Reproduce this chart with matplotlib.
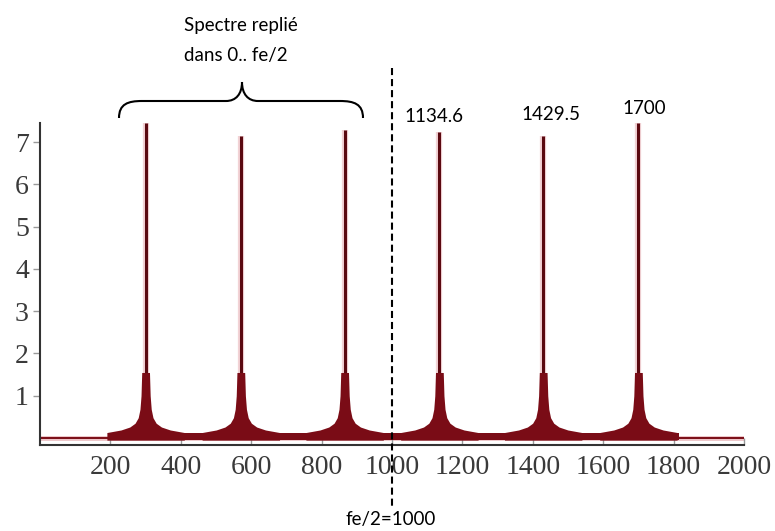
import numpy as np
import matplotlib
matplotlib.use("Agg")
import matplotlib.pyplot as plt
from matplotlib.path import Path
from matplotlib.patches import PathPatch
from matplotlib.transforms import blended_transform_factory

# spectrum lines (Hz) and their heights
peak_freqs = [300.0, 570.5, 865.4, 1134.6, 1429.5, 1700.0]
peak_heights = [7.45, 7.15, 7.28, 7.23, 7.14, 7.45]

# noisy skirt around each line: offset from the line (Hz) -> top of the band
skirt_offsets = [-110, -70, -45, -30, -21, -16, -13, -11, 11, 13, 16, 21, 30, 45, 70, 110]
skirt_top = [0.13, 0.19, 0.26, 0.35, 0.48, 0.68, 1.0, 1.55, 1.55, 1.0, 0.68, 0.48, 0.35, 0.26, 0.19, 0.13]

# noise floor between 200 and 1810 Hz
floor_x = [195, 1815]
floor_low = [-0.05, -0.05]
floor_high = [0.13, 0.13]

xticks = [200, 400, 600, 800, 1000, 1200, 1400, 1600, 1800, 2000]
yticks = [1, 2, 3, 4, 5, 6, 7]
peak_labels = ["1134.6", "1429.5", "1700"]

W, H = 775, 531
red = "#7a0c16"
dark = "#5a0910"


def px(x, y):
    return (x / W, 1 - y / H)


fig = plt.figure(figsize=(W / 100, H / 100), dpi=100)
ax = fig.add_axes([40 / W, 86 / H, 704 / W, 322 / H])

# thin baseline across the whole range
ax.plot([0, 2000], [0, 0], color="#edc4c8", lw=3.5, zorder=1)
ax.plot([0, 2000], [0, 0], color=red, lw=1.4, zorder=2)

# noise floor
ax.fill_between(floor_x, floor_low, floor_high, color=red, lw=0, zorder=4)

for f, h in zip(peak_freqs, peak_heights):
    xs = [f + d for d in skirt_offsets]
    ax.fill_between(xs, [-0.05] * len(xs), skirt_top, color=red, lw=0, zorder=4)
    ax.vlines(f, 0, h, color="#f2d2d5", lw=4.5, zorder=2)
    ax.vlines(f, 0, h, color=dark, lw=2.2, zorder=3)

ax.set_xlim(0, 2000)
ax.set_ylim(-0.165, 7.45)
ax.set_xticks(xticks)
ax.set_yticks(yticks)
ax.set_xticklabels([str(t) for t in xticks])
ax.set_yticklabels([str(t) for t in yticks])
for s in ["top", "right"]:
    ax.spines[s].set_visible(False)
for s in ["left", "bottom"]:
    ax.spines[s].set_color("#333333")
    ax.spines[s].set_linewidth(1.5)
ax.tick_params(axis="x", direction="in", length=5, width=1, color="#999999",
               pad=7, labelsize=20, labelcolor="#3a3a3a")
ax.tick_params(axis="y", direction="out", length=5, width=1, color="#999999",
               pad=3, labelsize=20, labelcolor="#3a3a3a")
for lab in ax.get_xticklabels() + ax.get_yticklabels():
    lab.set_fontfamily("Liberation Serif")

# fe/2 dashed line, going beyond the axes
trans = blended_transform_factory(ax.transData, fig.transFigure)
ax.plot([1000, 1000], [1 - 68 / H, 1 - 507 / H], transform=trans, color="black",
        lw=1.5, linestyle=(0, (3.4, 1.9)), clip_on=False, zorder=6)

sans = "Lato"
fig.text(*px(391, 520), "fe/2=1000", ha="center", va="center", fontsize=13.5, family=sans)

# labels of the lines above fe/2
label_pos = [(434, 117), (551, 114), (644, 109)]
for lab, (x, y) in zip(peak_labels, label_pos):
    fig.text(*px(x, y), lab, ha="center", va="center", fontsize=13.5, family=sans)

fig.text(*px(184, 25), "Spectre replié", ha="left", va="center", fontsize=13.5, family=sans)
fig.text(*px(184, 56), "dans 0.. fe/2", ha="left", va="center", fontsize=13.5, family=sans)

# curly brace over the folded lines
brace_pts = [(119, 118), (119, 104), (128, 101), (142, 101),
             (226, 101),
             (236, 101), (242, 94), (242, 82),
             (242, 94), (248, 101), (258, 101),
             (340, 101),
             (354, 101), (363, 104), (363, 118)]
codes = [Path.MOVETO, Path.CURVE4, Path.CURVE4, Path.CURVE4,
         Path.LINETO,
         Path.CURVE4, Path.CURVE4, Path.CURVE4,
         Path.CURVE4, Path.CURVE4, Path.CURVE4,
         Path.LINETO,
         Path.CURVE4, Path.CURVE4, Path.CURVE4]
brace = Path([px(x, y) for x, y in brace_pts], codes)
fig.patches.append(PathPatch(brace, transform=fig.transFigure, fill=False,
                             lw=1.5, edgecolor="black"))

fig.savefig("out.png", dpi=100)
